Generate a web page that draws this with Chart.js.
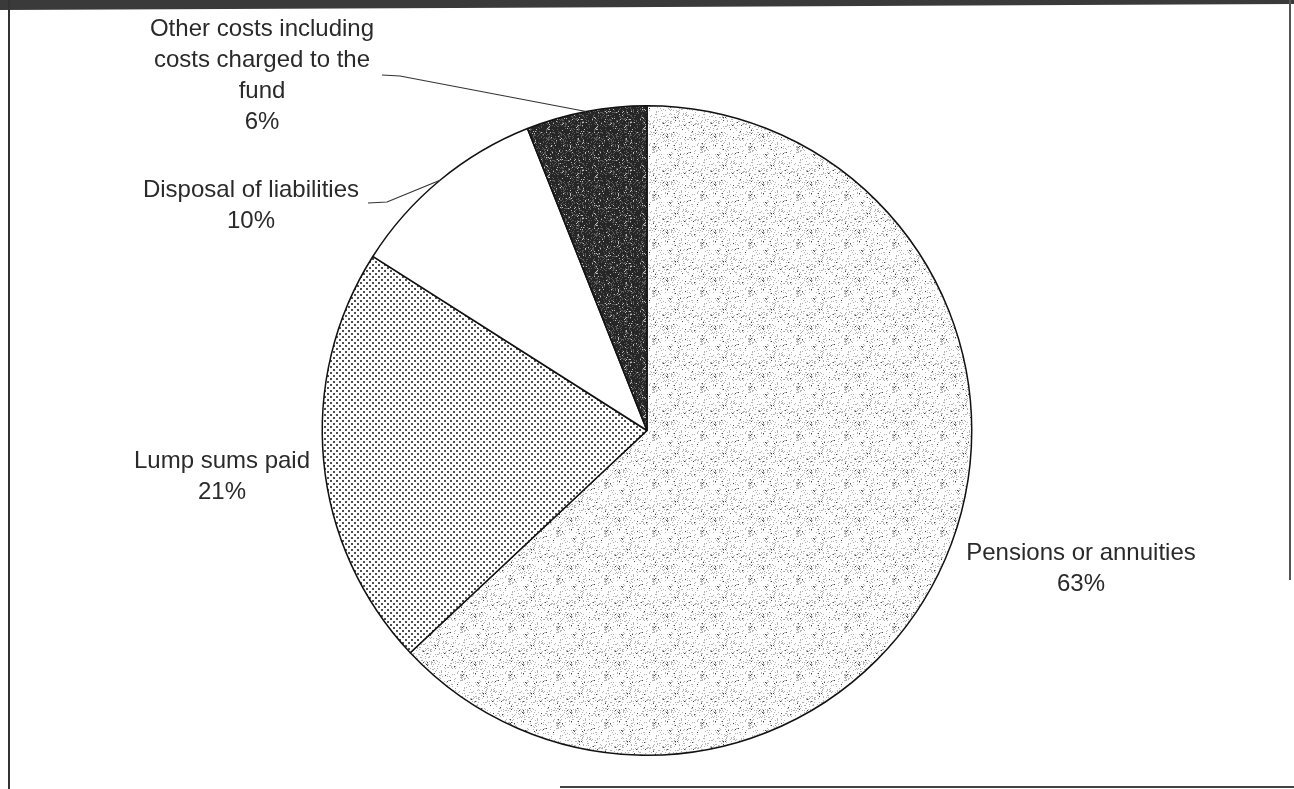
<!DOCTYPE html>
<html>
<head>
<meta charset="utf-8">
<title>Benefits paid</title>
<script src="https://cdn.jsdelivr.net/npm/chart.js@4.4.1/dist/chart.umd.min.js"></script>
<style>
  html, body { margin: 0; padding: 0; background: #fff; }
  .wrap { position: relative; width: 1294px; height: 789px; overflow: hidden; }
  canvas { position: absolute; left: 0; top: 0; }
  .band { position: absolute; left: 0; top: 0; width: 1294px; height: 10px; background: #3a3a3a;
          clip-path: polygon(0 0, 100% 0, 100% 40%, 0 100%); }
  .frame-l { position: absolute; left: 8px; top: 0; width: 1.5px; height: 789px; background: #333; }
  .frame-r { position: absolute; left: 1289px; top: 0; width: 1.5px; height: 580px; background: #555; }
  .frame-b { position: absolute; left: 560px; top: 786px; width: 734px; height: 1.5px; background: #444; }
</style>
</head>
<body>
<div class="wrap">
  <canvas id="pie" width="1294" height="789"></canvas>
  <div class="band"></div>
  <div class="frame-l"></div>
  <div class="frame-r"></div>
  <div class="frame-b"></div>
</div>
<script>
// categories and shares (%) going clockwise from 12 o'clock
const categories = ["Pensions or annuities", "Lump sums paid", "Disposal of liabilities", "Other costs including costs charged to the fund"];
const shares = [63, 21, 10, 6];

// how each label is broken into lines
const labelLines = [
  ["Pensions or annuities"],
  ["Lump sums paid"],
  ["Disposal of liabilities"],
  ["Other costs including", "costs charged to the", "fund"]
];

// label placement: centre x, first baseline, optional leader start
const labelPos = [
  { x: 1081, y: 560 },
  { x: 222, y: 468 },
  { x: 251, y: 197, leader: [[368, 203], [387, 202]] },
  { x: 262, y: 36, leader: [[382, 75], [400, 76]] }
];

// ---- fill textures ----
function hash(x, y, s) {
  let h = (x * 374761393 + y * 668265263 + s * 982451653) | 0;
  h = Math.imul(h ^ (h >>> 13), 1274126177);
  h ^= h >>> 16;
  return (h >>> 0) / 4294967296;
}

function makeTile(w, h, paint) {
  const c = document.createElement("canvas");
  c.width = w; c.height = h;
  const g = c.getContext("2d");
  paint(g, w, h);
  return document.createElement("canvas").getContext("2d").createPattern(c, "repeat");
}

// light stipple
const stipple = makeTile(48, 48, (g, w, h) => {
  g.fillStyle = "#fdfdfd"; g.fillRect(0, 0, w, h);
  for (let y = 0; y < h; y++) {
    for (let x = 0; x < w; x++) {
      const r = hash(x, y, 1);
      if (r < 0.015) { g.fillStyle = "#444"; g.fillRect(x, y, 1, 1); }
      else if (r < 0.17) { g.fillStyle = "#b4b4b4"; g.fillRect(x, y, 1, 1); }
    }
  }
});

// regular dot screen
const dots = makeTile(6, 6, (g, w, h) => {
  g.fillStyle = "#fff"; g.fillRect(0, 0, w, h);
  g.fillStyle = "#505050";
  g.fillRect(0, 0, 2, 2);
  g.fillRect(3, 3, 2, 2);
});

// dark speckle
const dark = makeTile(48, 48, (g, w, h) => {
  g.fillStyle = "#262626"; g.fillRect(0, 0, w, h);
  for (let y = 0; y < h; y++) {
    for (let x = 0; x < w; x++) {
      const r = hash(x, y, 7);
      if (r < 0.05) { g.fillStyle = "#bdbdbd"; g.fillRect(x, y, 1, 1); }
      else if (r < 0.25) { g.fillStyle = "#5a5a5a"; g.fillRect(x, y, 1, 1); }
    }
  }
});

const fills = [stipple, dots, "#ffffff", dark];

// ---- labels + leader lines ----
const sliceLabels = {
  id: "sliceLabels",
  afterDraw(chart) {
    const ctx = chart.ctx;
    const arcs = chart.getDatasetMeta(0).data;
    ctx.save();
    ctx.font = "24px 'Liberation Sans', Arial, sans-serif";
    ctx.fillStyle = "#2a2a2a";
    ctx.textAlign = "center";
    ctx.textBaseline = "alphabetic";
    const lh = 31;
    labelPos.forEach((p, i) => {
      const lines = labelLines[i].concat([shares[i] + "%"]);
      lines.forEach((t, k) => ctx.fillText(t, p.x, p.y + k * lh));
      if (p.leader) {
        const a = arcs[i];
        const mid = (a.startAngle + a.endAngle) / 2;
        const ex = a.x + Math.cos(mid) * a.outerRadius;
        const ey = a.y + Math.sin(mid) * a.outerRadius;
        ctx.beginPath();
        ctx.strokeStyle = "#333";
        ctx.lineWidth = 1.2;
        ctx.moveTo(p.leader[0][0], p.leader[0][1]);
        ctx.lineTo(p.leader[1][0], p.leader[1][1]);
        ctx.lineTo(ex, ey);
        ctx.stroke();
      }
    });
    ctx.restore();
  }
};

new Chart(document.getElementById("pie"), {
  type: "pie",
  data: {
    labels: categories,
    datasets: [{
      data: shares,
      backgroundColor: fills,
      borderColor: "#111",
      borderWidth: 1.5
    }]
  },
  options: {
    responsive: false,
    animation: false,
    layout: { padding: { top: 105, bottom: 33, left: 0, right: 0 } },
    plugins: {
      legend: { display: false },
      tooltip: { enabled: false }
    }
  },
  plugins: [sliceLabels]
});
</script>
</body>
</html>
